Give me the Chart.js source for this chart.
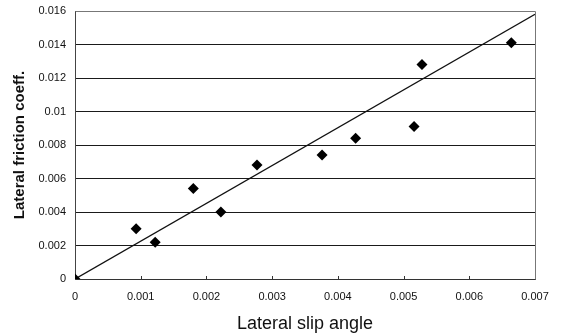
<!DOCTYPE html>
<html><head><meta charset="utf-8">
<script src="https://cdn.jsdelivr.net/npm/chart.js@4/dist/chart.umd.min.js"></script>
<style>html,body{margin:0;padding:0;background:#fff}#wrap{width:561px;height:335px}</style>
</head><body><div id="wrap"><canvas id="c" width="561" height="335"></canvas></div>
<script>
const slipAngle = [0, 0.00093, 0.00122, 0.0018, 0.00222, 0.00277, 0.00376, 0.00427, 0.00516, 0.00528, 0.00664];
const frictionCoeff = [0, 0.0030, 0.0022, 0.0054, 0.0040, 0.0068, 0.0074, 0.0084, 0.0091, 0.0128, 0.0141];
const trendX = [0, 0.007];
const trendY = [0, 0.0158];
const xTicks = [0, 0.001, 0.002, 0.003, 0.004, 0.005, 0.006, 0.007];
const yTicks = [0, 0.002, 0.004, 0.006, 0.008, 0.01, 0.012, 0.014, 0.016];
const xTitle = 'Lateral slip angle';
const yTitle = 'Lateral friction coeff.';

const fmt = v => { const r = Math.round(v*1000)/1000; return r === 0 ? '0' : String(r); };
const FONT = 'Arial, "Liberation Sans", sans-serif';

new Chart(document.getElementById('c'), {
  type: 'scatter',
  data: {
    datasets: [
      {
        label: 'data',
        data: slipAngle.map((x,i)=>({x, y: frictionCoeff[i]})),
        pointStyle: 'rectRot',
        pointRadius: 5.5,
        pointBackgroundColor: '#000',
        pointBorderColor: '#000',
        pointBorderWidth: 0,
        showLine: false,
        order: 1
      },
      {
        label: 'trend',
        data: trendX.map((x,i)=>({x, y: trendY[i]})),
        showLine: true,
        borderColor: '#111',
        borderWidth: 1.3,
        pointRadius: 0,
        order: 2
      }
    ]
  },
  options: {
    responsive: false,
    animation: false,
    layout: { padding: { top: 11, right: 26, left: 0, bottom: 0 } },
    plugins: { legend: { display: false }, tooltip: { enabled: false } },
    scales: {
      x: {
        type: 'linear', min: 0, max: 0.007,
        afterBuildTicks: s => { s.ticks = xTicks.map(v=>({value:v})); },
        afterFit: s => { s.height = 56; s.paddingLeft = 0; s.paddingRight = 0; },
        grid: { display: false, drawTicks: false },
        border: { display: true, color: '#333', width: 1 },
        ticks: { color: '#111', padding: 11, maxRotation: 0, font: { family: FONT, size: 11 }, callback: v => fmt(v) },
        title: { display: true, text: xTitle, color: '#111', padding: { top: 0, bottom: 0 }, font: { family: FONT, size: 18 } }
      },
      y: {
        type: 'linear', min: 0, max: 0.016,
        afterBuildTicks: s => { s.ticks = yTicks.map(v=>({value:v})); },
        afterFit: s => { s.width = 75; s.paddingTop = 0; s.paddingBottom = 0; },
        grid: { display: true, color: '#1a1a1a', lineWidth: 1, drawTicks: false },
        border: { display: true, color: '#444', width: 1 },
        ticks: { color: '#111', padding: 9, font: { family: FONT, size: 11 }, callback: v => fmt(v) },
        title: { display: true, text: yTitle, color: '#111', padding: { top: 11, bottom: 0 }, font: { family: FONT, size: 15, weight: 'bold' } }
      }
    }
  },
  plugins: [{
    id: 'frame',
    afterDraw(chart) {
      const {ctx, chartArea: a} = chart;
      const xs = chart.scales.x;
      ctx.save();
      ctx.strokeStyle = '#777';
      ctx.lineWidth = 1;
      ctx.beginPath();
      ctx.moveTo(Math.round(a.left)+0.5, Math.round(a.top)+0.5);
      ctx.lineTo(Math.round(a.right)+0.5, Math.round(a.top)+0.5);
      ctx.lineTo(Math.round(a.right)+0.5, Math.round(a.bottom)+0.5);
      ctx.stroke();
      ctx.strokeStyle = '#333';
      ctx.beginPath();
      xTicks.slice(1, -1).forEach(v => {
        const px = Math.round(xs.getPixelForValue(v)) + 0.5;
        ctx.moveTo(px, a.bottom);
        ctx.lineTo(px, a.bottom - 3);
      });
      ctx.stroke();
      ctx.restore();
    }
  }]
});
</script></body></html>
